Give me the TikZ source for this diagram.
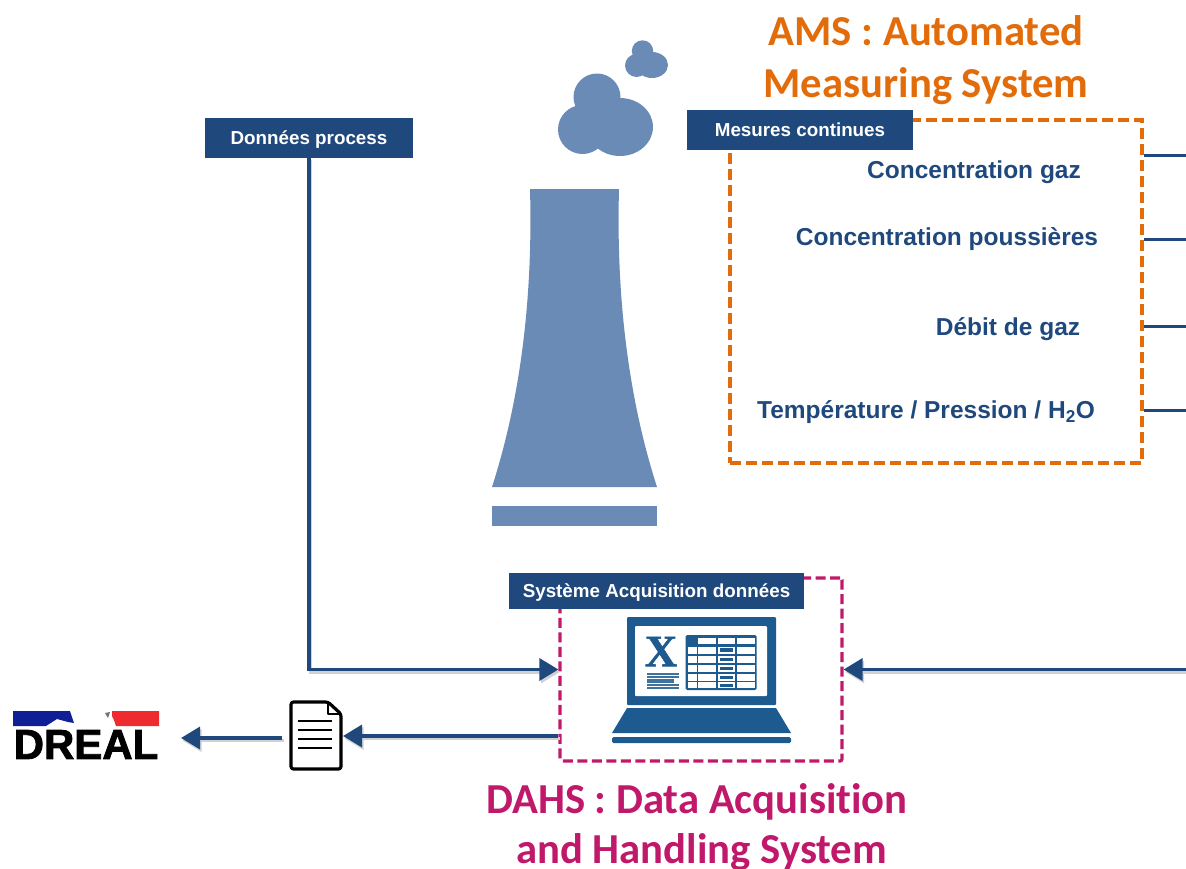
\documentclass[tikz,border=0pt]{standalone}
\usepackage{fontspec}
\setmainfont{Liberation Sans}
\newfontfamily\titlefont[Ligatures=NoCommon]{Carlito}
\newfontfamily\serifx[FakeBold=1.2]{Liberation Serif Bold}
\newfontfamily\drealfont[FakeBold=2]{Liberation Sans Bold}
\usetikzlibrary{positioning, calc, arrows.meta}

\definecolor{navy}{HTML}{1F497D}
\definecolor{smoke}{HTML}{6A8BB5}
\definecolor{laptopblue}{HTML}{1C5A8F}
\definecolor{amsorange}{HTML}{E36C0A}
\definecolor{dahspink}{HTML}{C0186A}
\definecolor{flagblue}{HTML}{0F1F96}
\definecolor{flagred}{HTML}{EE2B2E}

\newcommand{\flowpaths}{
	\draw[flow, ->] (procTag.south) |- (dahsBox.west);
	\draw[flow, ->] (dahsEnd) -- (dahsBox.east);
	\draw[flow, ->] (dahsOut) -- (docIn);
	\draw[flow, ->] (docOut) -- (drealIn);
}

\begin{document}
\begin{tikzpicture}[x=1pt, y=-1pt,
	>={Triangle[length=19pt,width=22pt]},
	flow/.style={draw=navy, line width=3.5pt},
	tag/.style={fill=navy, text=white, inner sep=0pt, text height=13.5pt, text depth=0pt, font=\fontsize{18.8}{22}\selectfont\bfseries},
	measure/.style={text=navy, inner sep=0pt, font=\fontsize{24.5}{28}\selectfont\bfseries},
	amsbox/.style={draw=amsorange, line width=4pt, dash pattern=on 11pt off 5pt, inner sep=0pt, minimum width=412pt, minimum height=343pt},
	dahsbox/.style={draw=dahspink, line width=3.2pt, dash pattern=on 10pt off 4.5pt, rounded corners=2pt, inner sep=0pt, minimum width=282pt, minimum height=183pt},
	bigtitle/.style={align=center, inner sep=0pt, font=\fontsize{42.7}{52}\selectfont\titlefont\bfseries}
	]
	\useasboundingbox (0,0) rectangle (1186,868);

	%Tower and smoke
	\fill[smoke] (530,189) -- (619,189) .. controls (616,300) and (629,400) .. (657,487) -- (492,487) .. controls (520,400) and (533,300) .. (530,189) -- cycle;
	\fill[smoke] (492,506) rectangle (657,526);
	\fill[smoke] (597,97) circle (23.5) (582.5,129.5) circle (24.5) (620,127) ellipse (33 and 29);
	\fill[smoke] (642.5,51) circle (10.7) (636.5,65.5) circle (11.5) (652,65) ellipse (16 and 13);

	%Boxes
	\node[amsbox]  (amsBox)  at (936,291.5) {};
	\node[dahsbox] (dahsBox) at (701,669.5) {};

	%Tags
	\node[tag, minimum width=226pt, minimum height=40pt] (contTag) at (800,130) {Mesures continues};
	\node[tag, minimum width=208pt, minimum height=40pt] (procTag) at (309,137.5) {Données process};
	\node[tag, minimum width=295pt, minimum height=36pt] (acqTag)  at (656.5,591) {Système Acquisition données};

	%Titles
	\node[bigtitle, text=amsorange] (amsTitle)  at (926,60) {AMS : Automated\\Measuring System};
	\node[bigtitle, text=dahspink, font=\fontsize{42.7}{50}\selectfont\titlefont\bfseries]  (dahsTitle) at (697,827) {DAHS : Data Acquisition\\\hspace*{9pt}and Handling System};

	%Measures
	\node[measure] (gaz)  at (974,172) {Concentration gaz};
	\node[measure] (dust) at (947,239) {Concentration poussières};
	\node[measure] (rate) at (1008,329) {Débit de gaz};
	\node[measure] (temp) at (926,412.5) {Température / Pression / H\textsubscript{2}O};

	%Laptop
	\fill[laptopblue, rounded corners=1pt] (627,617) rectangle (776,705);
	\fill[white, rounded corners=1pt] (635,626) rectangle (767,696);
	\fill[laptopblue] (627,708) -- (776,708) -- (791,733) -- (612,733) -- cycle;
	\fill[laptopblue, rounded corners=1.5pt] (612,737) rectangle (791,743);
	\node[text=laptopblue, inner sep=0pt, font=\fontsize{45}{46}\selectfont\serifx] (xlsMark) at (661,651.5) {X};
	\foreach \y/\w in {672.7/32.6, 675.6/32.6, 678.5/27, 681.4/27, 684.3/32.6, 687.2/32.6}
		\fill[laptopblue!85] (646.7,\y) rectangle +(\w,2);
	\fill[laptopblue, rounded corners=1.5pt] (685.7,635) rectangle (756.7,690);
	\foreach \x/\w in {688.3/8.4, 698.3/17.7, 717.7/17.3, 736.7/18.3}
		\foreach \y/\h in {646.7/7.3, 656/6.7, 665/6.7, 674/6.7, 682.3/6}
			\fill[white] (\x,\y) rectangle +(\w,\h);
	\foreach \x/\w in {698.3/17.7, 717.7/17.3, 736.7/18.3}
		\fill[white] (\x,637.7) rectangle +(\w,6.6);
	\foreach \y in {648.3, 657.5, 666.5, 675.5, 683.5}
		\fill[laptopblue] (720,\y) rectangle +(12.7,3.8);

	%Document
	\coordinate (docIn) at (343,736);
	\draw[black, line width=3.2pt, line join=round, rounded corners=2.5pt, fill=white] (291,702) -- (328,702) -- (341,714) -- (341,769) -- (291,769) -- cycle;
	\draw[black, line width=2.2pt, line join=round] (328,702) -- (328,714) -- (341,714);
	\foreach \y in {721,730,739,748}
		\draw[black, line width=2.2pt] (298,\y) -- (332,\y);
	\coordinate (docOut) at (282,738);

	%Logo
	\fill[flagblue] (13,711) -- (70,711) -- (74,723) -- (68,722) -- (57,719) -- (46,726) -- (13,726) -- cycle;
	\fill[flagred] (112,711) -- (159,711) -- (159,726) -- (116,726) -- (114,720) -- (112,716) -- cycle;
	\fill[black!55] (105,713) -- (110,712) -- (108,718) -- cycle;
	\node[inner sep=0pt, text=black, font=\fontsize{42}{44}\selectfont\drealfont] (dreal) at (86,744.5) {DREAL};
	\coordinate (drealIn) at (181,738);

	%Connectors
	\coordinate (gazEnd)  at (1186,155);
	\coordinate (dustEnd) at (1186,239);
	\coordinate (rateEnd) at (1186,326);
	\coordinate (tempEnd) at (1186,410);
	\coordinate (dahsEnd) at (1186,669.5);
	\coordinate (dahsOut) at (dahsBox.west |- docIn);
	\foreach \m in {gazEnd, dustEnd, rateEnd, tempEnd}
		\draw[navy, line width=3pt] (amsBox.east |- \m) -- (\m);
	\begin{scope}[transform canvas={shift={(1.5pt,-2.5pt)}}, flow/.style={draw=black!18, line width=3.5pt}]
		\flowpaths
	\end{scope}
	\flowpaths
\end{tikzpicture}
\end{document}
